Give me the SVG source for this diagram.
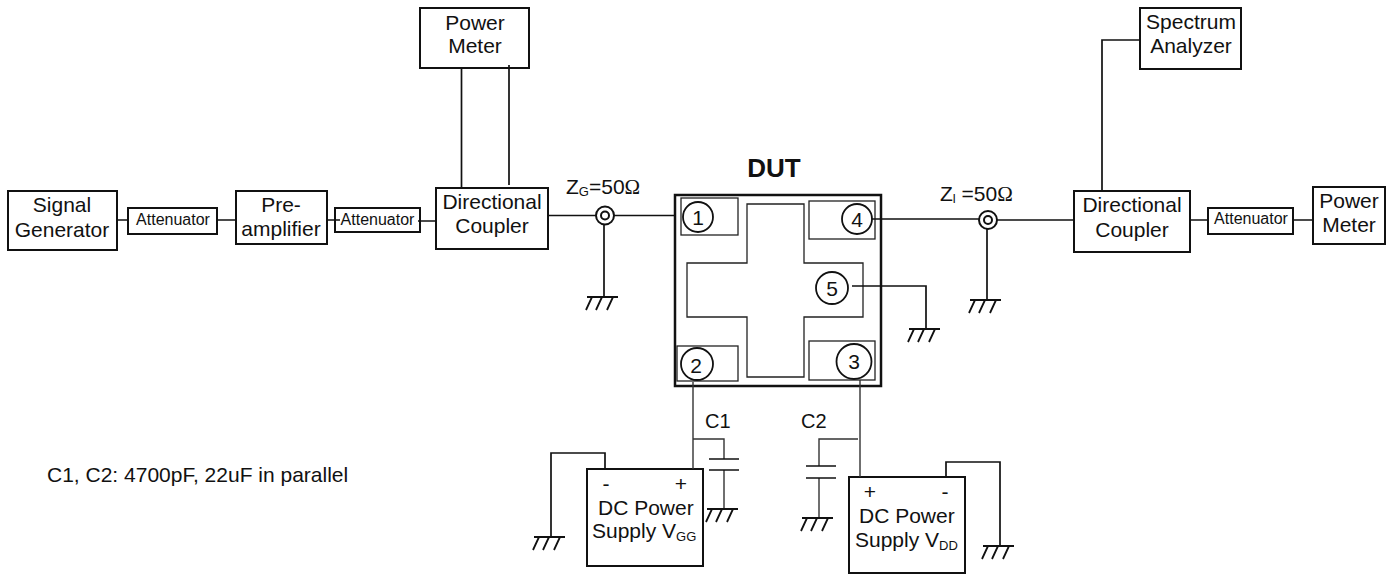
<svg xmlns="http://www.w3.org/2000/svg" width="1396" height="574" viewBox="0 0 1396 574">
<style>
text{font-family:"Liberation Sans",Arial,sans-serif;fill:#111;font-size:21px}
.m{text-anchor:middle}
.a{font-size:16px}
.s{font-size:13px}
.box{fill:#fff;stroke:#111;stroke-width:2}
.thin{fill:none;stroke:#222;stroke-width:1.3}
.c{fill:#fff;stroke:#111;stroke-width:1.8}
.w{fill:none;stroke:#111;stroke-width:1.7}
.l{fill:none;stroke:#333;stroke-width:1.4}
.g{fill:none;stroke:#111;stroke-width:1.8}
</style>
<defs>
<g id="gnd"><path class="g" d="M-17 0H14M-12 0L-18 13M-2 0L-8 13M9 0L3 13"/></g>
</defs>
<g id="signal-generator"><rect class="box" x="8" y="191" width="109" height="59"/><text class="m" x="62" y="212">Signal</text><text class="m" x="62" y="237">Generator</text></g>
<g id="attenuator-1"><rect class="box" x="128" y="208" width="89" height="26"/><text class="m a" x="173" y="225">Attenuator</text></g>
<g id="preamplifier"><rect class="box" x="236" y="191" width="91" height="53"/><text class="m" x="281" y="212">Pre-</text><text class="m" x="281" y="236">amplifier</text></g>
<g id="attenuator-2"><rect class="box" x="335" y="208" width="85" height="24"/><text class="m a" x="377.5" y="225">Attenuator</text></g>
<g id="coupler-1"><rect class="box" x="436" y="188" width="112" height="61"/><text class="m" x="492" y="209">Directional</text><text class="m" x="492" y="233">Coupler</text></g>
<g id="power-meter-1"><rect class="box" x="420" y="8" width="109" height="60"/><text class="m" x="475" y="30">Power</text><text class="m" x="475" y="53">Meter</text></g>
<g id="load-gen"><text x="566" y="194">Z<tspan class="s" dy="2">G</tspan><tspan dy="-2">=50</tspan><tspan style="font-family:'Liberation Serif',serif">Ω</tspan></text></g>
<g id="load-out"><text x="940" y="201">Z<tspan class="s" dy="2">l</tspan><tspan dy="-2"> =50</tspan><tspan style="font-family:'Liberation Serif',serif">Ω</tspan></text></g>
<g id="dut">
<text x="774" y="177" text-anchor="middle" style="font-size:26px;font-weight:bold">DUT</text>
<rect x="675" y="195" width="206" height="191" style="fill:#fff;stroke:#111;stroke-width:2.5"/>
<path class="thin" d="M747 204H804V263H863V317H804V377H747V317H687V263H747Z"/>
<rect class="thin" x="681" y="198" width="57" height="37"/>
<rect class="thin" x="809" y="201" width="66" height="38"/>
<rect class="thin" x="677" y="346" width="61" height="35"/>
<rect class="thin" x="809" y="341" width="66" height="39"/>
<circle class="c" cx="698" cy="217" r="15"/><text class="m" x="698" y="224.500">1</text>
<circle class="c" cx="857" cy="219" r="15"/><text class="m" x="857" y="226.500">4</text>
<circle class="c" cx="697" cy="364" r="16"/><text class="m" x="696" y="373">2</text>
<circle class="c" cx="854" cy="361.500" r="17.500"/><text class="m" x="854" y="368.500">3</text>
<circle class="c" cx="832" cy="288" r="16"/><text class="m" x="832" y="295.500">5</text>
</g>
<g id="coupler-2"><rect class="box" x="1074" y="191" width="116" height="61"/><text class="m" x="1132" y="212">Directional</text><text class="m" x="1132" y="237">Coupler</text></g>
<g id="spectrum-analyzer"><rect class="box" x="1140" y="8" width="101" height="61"/><text class="m" x="1191" y="29">Spectrum</text><text class="m" x="1191" y="53">Analyzer</text></g>
<g id="attenuator-3"><rect class="box" x="1208" y="208" width="85" height="26"/><text class="m a" x="1251" y="224">Attenuator</text></g>
<g id="power-meter-2"><rect class="box" x="1313" y="187" width="72" height="57"/><text class="m" x="1349" y="208">Power</text><text class="m" x="1349" y="232">Meter</text></g>
<g id="supply-vgg"><rect class="box" x="587" y="469" width="116" height="97"/><text class="m" x="606" y="491">-</text><text class="m" x="681" y="491">+</text><text x="598" y="515">DC Power</text><text x="592" y="538">Supply V<tspan class="s" dy="3">GG</tspan></text></g>
<g id="supply-vdd"><rect class="box" x="849" y="477" width="116" height="96"/><text class="m" x="870" y="499">+</text><text class="m" x="945" y="499">-</text><text x="859" y="523">DC Power</text><text x="855" y="547">Supply V<tspan class="s" dy="3">DD</tspan></text></g>
<g id="labels"><text x="705" y="428" style="font-size:20px">C1</text><text x="801" y="428" style="font-size:20px">C2</text><text x="47" y="482">C1, C2: 4700pF, 22uF in parallel</text></g>
<g id="connectors">
<path class="w" d="M117 220H128M217 220H236M327 220H340M418 221H436"/>
<path class="w" d="M461.500 68V188M509 65V185"/>
<path class="w" d="M548 215.500H596M614 215.500H675M604 225V297"/>
<path class="w" d="M872 219H979M997 220H1074M987 229V300"/>
<path class="w" d="M1102 191V40H1140M1190 220H1208M1293 220H1313"/>
<path class="w" d="M852 286H926V329"/>
<path class="l" d="M693 382V469M693 439H724V459M724 470V509M860 380V477M858 439H819V466M819 478V518"/>
<path class="w" d="M709 459H739M709 470H739M806 466H836M806 478H836"/>
<path class="w" d="M605 469V453H551V537"/>
<path class="w" d="M946 477V462H1000V546"/>
<use href="#gnd" x="604" y="297"/>
<use href="#gnd" x="987" y="300"/>
<use href="#gnd" x="926" y="329"/>
<use href="#gnd" x="724" y="509"/>
<use href="#gnd" x="551" y="537"/>
<use href="#gnd" x="819" y="518"/>
<use href="#gnd" x="1000" y="546"/>
<circle class="box" cx="605" cy="215.500" r="9"/><circle class="box" cx="605" cy="215.500" r="4"/>
<circle class="box" cx="988" cy="220" r="9"/><circle class="box" cx="988" cy="220" r="4"/>
</g>
</svg>
